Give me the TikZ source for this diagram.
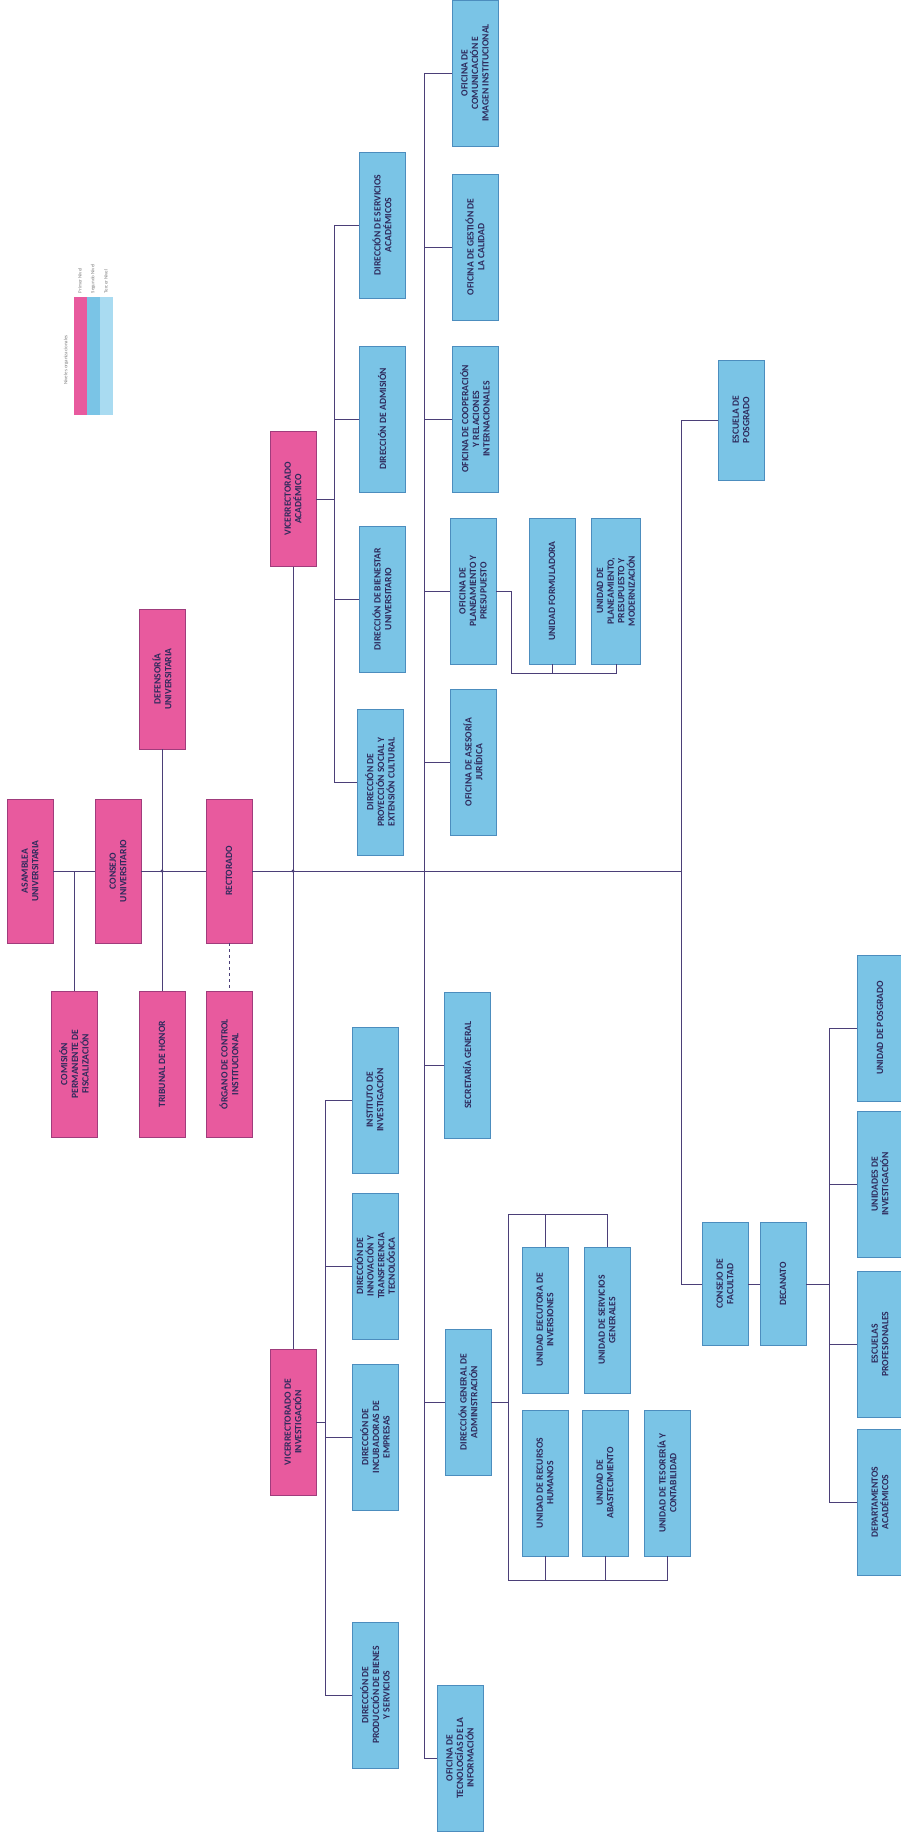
\documentclass[tikz,border=0pt]{standalone}
\usepackage{fontspec}
\setmainfont{Carlito}
\usepackage{xcolor}
\usepackage{tikz}
\usetikzlibrary{positioning}
\definecolor{rosefill}{HTML}{E85A9E}
\definecolor{rosedraw}{HTML}{A03C7C}
\definecolor{skyfill}{HTML}{7AC4E6}
\definecolor{skydraw}{HTML}{4C8DBE}
\definecolor{paleblue}{HTML}{A9DBF1}
\definecolor{inktext}{HTML}{2E2A5C}
\definecolor{linkline}{HTML}{4B3F78}

\begin{document}
\begin{tikzpicture}[
x=1pt, y=-1pt,
unit/.style={
rotate=90,
minimum width=146pt,
minimum height=46pt,
inner sep=1pt,
align=center,
text=inktext,
font=\bfseries\fontsize{9.6}{10.6}\selectfont
},
topbox/.style={
unit,
draw=rosedraw,
fill=rosefill
},
subbox/.style={
unit,
draw=skydraw,
fill=skyfill
},
link/.style={
draw=linkline,
line width=0.7pt
},
legbar/.style={
minimum width=13pt,
minimum height=118pt,
inner sep=0pt
},
legtext/.style={
rotate=90,
text=gray,
font=\fontsize{5}{6}\selectfont
}
]

\fill[white] (0,0) rectangle (900,1835);
\useasboundingbox (0,0) rectangle (900,1835);

\node[legtext] (legtitle) at (66,360) {Niveles organizacionales};

\node[legbar, fill=rosefill] (legone) at (80,356) {};

\node[legbar, fill=skyfill] (legtwo) at (93,356) {};

\node[legbar, fill=paleblue] (legthree) at (106,356) {};

\node[legtext, anchor=west] at (legone.north) {Primer Nivel};

\node[legtext, anchor=west] at (legtwo.north) {Segundo Nivel};

\node[legtext, anchor=west] at (legthree.north) {Tercer Nivel};

\node[topbox, minimum width=144pt] (asamblea) at (30,871)
{ASAMBLEA\\UNIVERSITARIA};

\node[topbox, minimum width=144pt] (consejo) at (118,871)
{CONSEJO\\UNIVERSITARIO};

\node[topbox, minimum width=144pt] (rectorado) at (229,871)
{RECTORADO};

\node[topbox, minimum width=140pt] (defensoria) at (162,679)
{DEFENSORÍA\\UNIVERSITARIA};

\node[topbox] (comision) at (74,1064)
{COMISIÓN\\PERMANENTE DE\\FISCALIZACIÓN};

\node[topbox] (tribunal) at (162,1064)
{TRIBUNAL DE HONOR};

\node[topbox] (organo) at (229,1064)
{ÓRGANO DE CONTROL\\INSTITUCIONAL};

\node[topbox, minimum width=135pt] (vracad) at (293,499)
{VICERRECTORADO\\ACADÉMICO};

\node[topbox] (vrinv) at (293,1422)
{VICERRECTORADO DE\\INVESTIGACIÓN};

\node[subbox] (dsa) at (382,225)
{DIRECCIÓN DE SERVICIOS\\ACADÉMICOS};

\node[subbox] (dadm) at (382,419)
{DIRECCIÓN DE ADMISIÓN};

\node[subbox] (dbien) at (382,599)
{DIRECCIÓN DE BIENESTAR\\UNIVERSITARIO};

\node[subbox] (dpsec) at (380,782)
{DIRECCIÓN DE\\PROYECCIÓN SOCIAL Y\\EXTENSIÓN CULTURAL};

\node[subbox] (ocom) at (475,73)
{OFICINA DE\\COMUNICACIÓN E\\IMAGEN INSTITUCIONAL};

\node[subbox] (ocal) at (475,247)
{OFICINA DE GESTIÓN DE\\LA CALIDAD};

\node[subbox] (ocoop) at (475,419)
{OFICINA DE COOPERACIÓN\\Y RELACIONES\\INTERNACIONALES};

\node[subbox] (oplan) at (473,591)
{OFICINA DE\\PLANEAMIENTO Y\\PRESUPUESTO};

\node[subbox] (oaj) at (473,762)
{OFICINA DE ASESORÍA\\JURÍDICA};

\node[subbox] (uform) at (552,591)
{UNIDAD FORMULADORA};

\node[subbox, minimum height=49pt] (upm) at (616,591)
{UNIDAD DE\\PLANEAMIENTO,\\PRESUPUESTO Y\\MODERNIZACIÓN};

\node[subbox, minimum width=120pt] (escuela) at (741,420)
{ESCUELA DE\\POSGRADO};

\node[subbox] (secgen) at (467,1065)
{SECRETARÍA GENERAL};

\node[subbox] (dga) at (468,1402)
{DIRECCIÓN GENERAL DE\\ADMINISTRACIÓN};

\node[subbox] (oti) at (460,1758)
{OFICINA DE\\TECNOLOGÍAS DE LA\\INFORMACIÓN};

\node[subbox] (uei) at (545,1320)
{UNIDAD EJECUTORA DE\\INVERSIONES};

\node[subbox] (usg) at (607,1320)
{UNIDAD DE SERVICIOS\\GENERALES};

\node[subbox] (urh) at (545,1483)
{UNIDAD DE RECURSOS\\HUMANOS};

\node[subbox] (uabas) at (605,1483)
{UNIDAD DE\\ABASTECIMIENTO};

\node[subbox] (utes) at (667,1483)
{UNIDAD DE TESORERÍA Y\\CONTABILIDAD};

\node[subbox] (iinv) at (375,1100)
{INSTITUTO DE\\INVESTIGACIÓN};

\node[subbox] (dinno) at (375,1266)
{DIRECCIÓN DE\\INNOVACIÓN Y\\TRANSFERENCIA\\TECNOLÓGICA};

\node[subbox] (dincu) at (375,1437)
{DIRECCIÓN DE\\INCUBADORAS DE\\EMPRESAS};

\node[subbox] (dprod) at (375,1695)
{DIRECCIÓN DE\\PRODUCCIÓN DE BIENES\\Y SERVICIOS};

\node[subbox, minimum width=123pt] (cfacultad) at (725,1284)
{CONSEJO DE\\FACULTAD};

\node[subbox, minimum width=123pt] (decanato) at (783,1284)
{DECANATO};

\node[subbox] (upos) at (880,1028)
{UNIDAD DE POSGRADO};

\node[subbox] (uinv) at (880,1184)
{UNIDADES DE\\INVESTIGACIÓN};

\node[subbox] (eprof) at (880,1344)
{ESCUELAS\\PROFESIONALES};

\node[subbox] (dacad) at (880,1502)
{DEPARTAMENTOS\\ACADÉMICOS};

\coordinate (mainend) at (681,871);
\coordinate (acbus) at (334,0);
\coordinate (invbus) at (325,0);
\coordinate (ofbus) at (424,0);
\coordinate (facbus) at (829,0);
\coordinate (planbend) at (511,673);
\coordinate (admtop) at (508,1214);
\coordinate (admbot) at (508,1580);

\draw[link] (asamblea) -- (consejo);
\draw[link] (consejo) -- (rectorado);
\draw[link] (rectorado) -- (mainend);
\draw[link] (comision) -- (comision |- consejo);
\draw[link] (defensoria) -- (tribunal);
\draw[link, dashed] (rectorado) -- (organo);
\draw[link] (vracad) -- (vrinv);
\fill[linkline] (tribunal |- consejo) circle (1.6pt);
\fill[linkline] (vracad |- consejo) circle (1.6pt);

\draw[link] (mainend) |- (escuela);
\draw[link] (mainend) |- (cfacultad);

\draw[link] (vracad) -- (vracad -| acbus);
\draw[link] (dsa -| acbus) -- (dpsec -| acbus);
\foreach \n in {dsa,dadm,dbien,dpsec}
\draw[link] (\n -| acbus) -- (\n);

\draw[link] (ocom -| ofbus) -- (oti -| ofbus);
\foreach \n in {ocom,ocal,ocoop,oplan,oaj,secgen,dga,oti}
\draw[link] (\n -| ofbus) -- (\n);

\draw[link] (oplan) -| (planbend) -| (upm);
\draw[link] (uform |- planbend) -- (uform);

\draw[link] (dga) -- (dga -| admtop);
\draw[link] (admtop) -- (admbot);
\draw[link] (admtop) -| (usg);
\draw[link] (uei |- admtop) -- (uei);
\draw[link] (admbot) -| (utes);
\draw[link] (urh |- admbot) -- (urh);
\draw[link] (uabas |- admbot) -- (uabas);

\draw[link] (vrinv) -- (vrinv -| invbus);
\draw[link] (iinv -| invbus) -- (dprod -| invbus);
\foreach \n in {iinv,dinno,dincu,dprod}
\draw[link] (\n -| invbus) -- (\n);

\draw[link] (cfacultad) -- (decanato);
\draw[link] (decanato) -- (decanato -| facbus);
\draw[link] (upos -| facbus) -- (dacad -| facbus);
\foreach \n in {upos,uinv,eprof,dacad}
\draw[link] (\n -| facbus) -- (\n);

\end{tikzpicture}
\end{document}
